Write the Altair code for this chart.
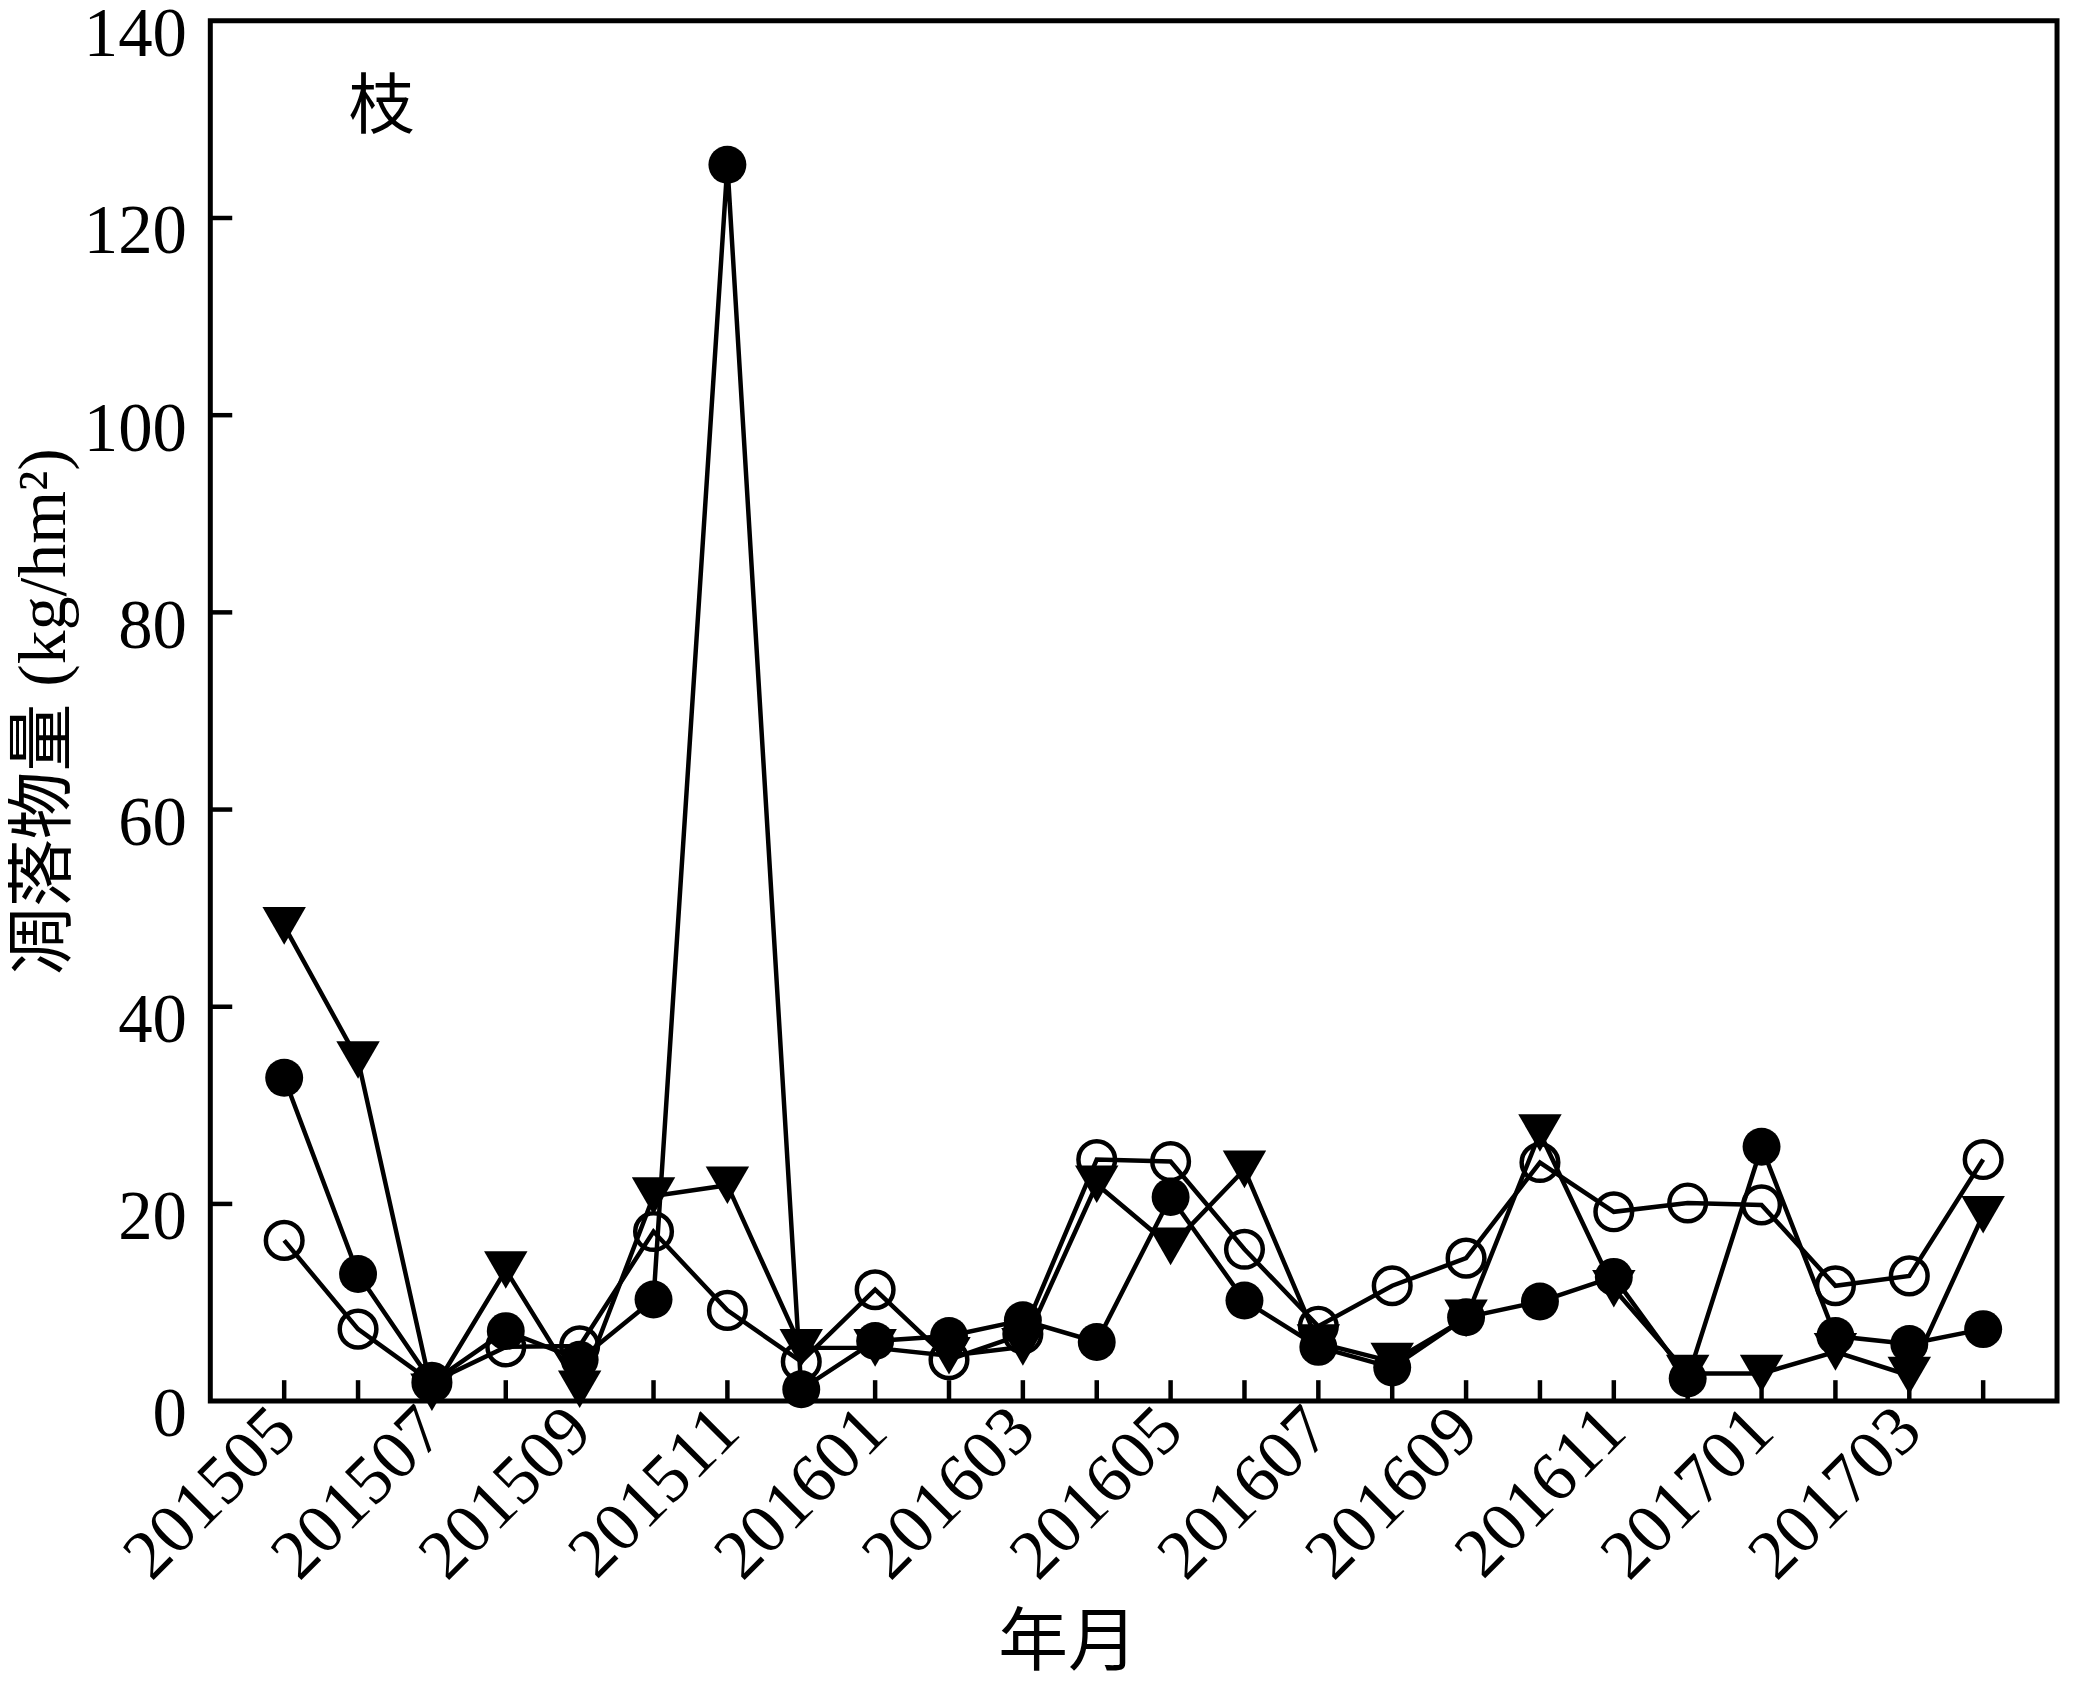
import altair as alt
import pandas as pd

months = ["201505", "201506", "201507", "201508", "201509", "201510", "201511", "201512",
          "201601", "201602", "201603", "201604", "201605", "201606", "201607", "201608",
          "201609", "201610", "201611", "201612", "201701", "201702", "201703", "201704"]
labeled_months = months[0::2][:12]

filled_circle = [32.8, 12.9, 1.9, 7.1, 4.2, 10.3, 125.4, 1.2, 6.1, 6.6, 8.2, 6.0,
                 20.7, 10.2, 5.5, 3.4, 8.5, 10.1, 12.6, 2.3, 25.8, 6.6, 5.8, 7.3]
open_circle = [16.3, 7.3, 1.9, 5.5, 5.6, 17.2, 9.2, 4.0, 11.3, 4.2, 6.8, 24.5,
               24.3, 15.4, 7.6, 11.7, 14.5, 24.2, 19.2, 20.1, 19.9, 11.7, 12.7, 24.5]
triangle = [48.2, 34.6, 0.9, 13.3, 1.2, 20.8, 21.9, 5.4, 5.4, 4.6, 5.5, 22.0,
            15.7, 23.5, 5.9, 4.0, 8.4, 27.2, 11.4, 2.8, 2.8, 5.0, 2.6, 18.9]

y_ticks = [0, 20, 40, 60, 80, 100, 120, 140]

W, H = 1853, 1385
SERIF = "Liberation Serif, 'Noto Sans CJK SC'"
CJK = "'Noto Sans CJK SC'"

x_scale = alt.Scale(type="point", padding=1, domain=months)
y_scale = alt.Scale(domain=[0, 140], nice=False, zero=True)

x_axis = alt.Axis(values=labeled_months, labelAngle=315, labelAlign="right",
                  labelBaseline="middle", labelPadding=18, labelLimit=0, ticks=False,
                  domain=False, grid=False, labelFont="Liberation Serif", labelFontSize=70,
                  labelColor="black", title="年月", titleFont=SERIF, titleFontSize=70,
                  titleFontWeight="normal", titleColor="black",
                  titleX=860, titleY=264, titleAnchor="start", titleAlign="center",
                  titleBaseline="alphabetic", labelOverlap=False)
y_axis = alt.Axis(values=y_ticks, ticks=False, domain=False, grid=False,
                  labelFont="Liberation Serif", labelFontSize=69, labelColor="black",
                  labelPadding=24, labelOffset=14, title="凋落物量 (kg/hm²)", titleFont=SERIF,
                  titleFontSize=68, titleFontWeight="normal", titleColor="black",
                  titleAngle=270, titleX=-166, titleY=H / 2, titleAlign="center",
                  titleBaseline="middle")

X = lambda: alt.X("month:O", scale=x_scale, axis=x_axis, sort=months)
Y = lambda: alt.Y("value:Q", scale=y_scale, axis=y_axis)


def series_df(vals):
    return pd.DataFrame({"month": months, "value": vals})


layers = []
for vals, shape, filled in [(triangle, "triangle-down", True),
                            (open_circle, "circle", False),
                            (filled_circle, "circle", True)]:
    df = series_df(vals)
    line = alt.Chart(df).mark_line(color="black", strokeWidth=4.5).encode(x=X(), y=Y())
    if filled:
        size = 1900 if shape == "triangle-down" else 1450
        pt = alt.Chart(df).mark_point(shape=shape, filled=True, color="black",
                                      opacity=1, size=size)
    else:
        pt = alt.Chart(df).mark_point(shape=shape, filled=False, color="black",
                                      strokeWidth=4.5, opacity=1, size=1350)
    pt = pt.encode(x=X(), y=Y())
    layers += [line, pt]

# inward ticks on the x axis
xt = alt.Chart(pd.DataFrame({"month": months})).mark_rule(color="black", strokeWidth=4.5).encode(
    x=X(), y=alt.value(H), y2=alt.value(H - 21))
# inward ticks on the y axis
yt = alt.Chart(pd.DataFrame({"value": y_ticks[1:-1]})).mark_rule(color="black", strokeWidth=4.5).encode(
    y=Y(), x=alt.value(0), x2=alt.value(22))
label = alt.Chart(pd.DataFrame({"t": ["枝"]})).mark_text(
    font=CJK, fontSize=66, color="black", align="center", baseline="middle").encode(
    text="t:N", x=alt.value(172), y=alt.value(88))

chart = alt.layer(*layers, xt, yt, label).properties(
    width=W, height=H,
    autosize=alt.AutoSizeParams(type="none"),
    padding={"left": 203, "top": 10, "right": 8, "bottom": 282},
    background="white",
).configure_view(stroke="black", strokeWidth=5)

chart.save("out.html", embed_options={"renderer": "svg", "actions": False})
